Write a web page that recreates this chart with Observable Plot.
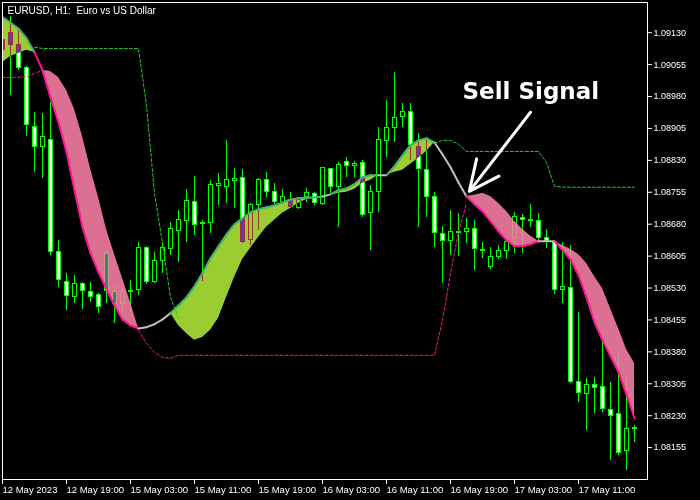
<!DOCTYPE html>
<html><head><meta charset="utf-8">
<script src="https://cdn.jsdelivr.net/npm/d3@7"></script>
<script src="https://cdn.jsdelivr.net/npm/@observablehq/plot@0.6"></script>
<style>
html,body{margin:0;padding:0;background:#000;}
#chart{width:700px;height:500px;}
</style></head><body><div id="chart"></div>
<script>
// hourly bars, index -1 = 12 May 2023 11:00
const bars = d3.range(-1, 79);
const open = [1.09112,1.09129,1.09100,1.09046,1.08908,1.08861,1.08877,1.08614,1.08543,1.08509,
1.08539,1.08520,1.08513,1.08610,1.08520,1.08492,1.08520,1.08525,1.08623,1.08543,
1.08593,1.08621,1.08663,1.08687,1.08731,1.08682,1.08682,1.08769,1.08767,1.08781,
1.08788,1.08642,1.08724,1.08783,1.08755,1.08729,1.08738,1.08717,1.08743,1.08750,
1.08727,1.08809,1.08767,1.08826,1.08816,1.08823,1.08706,1.08755,1.08875,1.08906,
1.08931,1.08943,1.08861,1.08807,1.08743,1.08656,1.08640,1.08661,1.08661,1.08668,
1.08619,1.08579,1.08602,1.08616,1.08647,1.08694,1.08689,1.08687,1.08647,1.08637,
1.08525,1.08529,1.08308,1.08280,1.08301,1.08297,1.08243,1.08233,1.08147,1.08198];
const high = [1.09148,1.09167,1.09136,1.09051,1.08943,1.08941,1.08966,1.08642,1.08563,1.08560,
1.08543,1.08543,1.08518,1.08619,1.08536,1.08529,1.08548,1.08637,1.08628,1.08614,
1.08637,1.08684,1.08713,1.08762,1.08793,1.08689,1.08783,1.08798,1.08877,1.08812,
1.08809,1.08729,1.08788,1.08802,1.08776,1.08762,1.08755,1.08743,1.08764,1.08755,
1.08814,1.08812,1.08826,1.08837,1.08828,1.08830,1.08771,1.08908,1.08971,1.09037,
1.08964,1.08964,1.08894,1.08877,1.08755,1.08675,1.08713,1.08706,1.08694,1.08689,
1.08637,1.08626,1.08630,1.08647,1.08708,1.08703,1.08727,1.08706,1.08668,1.08642,
1.08637,1.08630,1.08473,1.08318,1.08320,1.08407,1.08308,1.08384,1.08320,1.08207];
const low = [1.09065,1.08983,1.09042,1.08885,1.08802,1.08788,1.08607,1.08532,1.08476,1.08494,
1.08480,1.08496,1.08471,1.08494,1.08447,1.08471,1.08473,1.08513,1.08539,1.08541,
1.08565,1.08607,1.08590,1.08637,1.08654,1.08546,1.08659,1.08724,1.08729,1.08717,
1.08635,1.08630,1.08666,1.08743,1.08724,1.08727,1.08717,1.08715,1.08731,1.08724,
1.08724,1.08748,1.08673,1.08790,1.08790,1.08696,1.08619,1.08708,1.08837,1.08872,
1.08908,1.08830,1.08673,1.08696,1.08626,1.08541,1.08607,1.08605,1.08635,1.08572,
1.08600,1.08574,1.08597,1.08597,1.08612,1.08612,1.08673,1.08637,1.08623,1.08515,
1.08494,1.08306,1.08261,1.08196,1.08236,1.08238,1.08125,1.08137,1.08102,1.08167];
const close = [1.09089,1.09100,1.09046,1.08912,1.08861,1.08885,1.08614,1.08548,1.08511,1.08539,
1.08523,1.08509,1.08485,1.08523,1.08492,1.08520,1.08523,1.08623,1.08543,1.08593,
1.08623,1.08668,1.08689,1.08734,1.08677,1.08680,1.08772,1.08774,1.08783,1.08786,
1.08637,1.08724,1.08783,1.08755,1.08731,1.08743,1.08720,1.08736,1.08753,1.08729,
1.08812,1.08767,1.08819,1.08816,1.08821,1.08701,1.08755,1.08877,1.08906,1.08929,
1.08943,1.08866,1.08809,1.08743,1.08659,1.08640,1.08661,1.08660,1.08668,1.08621,
1.08618,1.08602,1.08616,1.08637,1.08696,1.08689,1.08688,1.08647,1.08640,1.08525,
1.08532,1.08308,1.08283,1.08301,1.08294,1.08245,1.08229,1.08142,1.08198,1.08200];
// indicator: fast line (band edge) and slow line (band far side)
const fast = [1.09167,1.09154,1.09140,1.09117,1.09084,1.09042,1.08978,1.08919,1.08849,1.08760,
1.08673,1.08612,1.08567,1.08527,1.08489,1.08456,1.08442,1.08435,1.08438,1.08445,
1.08456,1.08471,1.08489,1.08508,1.08534,1.08565,1.08600,1.08628,1.08656,1.08680,
1.08694,1.08708,1.08715,1.08720,1.08724,1.08731,1.08738,1.08741,1.08743,1.08743,
1.08745,1.08750,1.08760,1.08764,1.08774,1.08790,1.08795,1.08795,1.08795,1.08816,
1.08842,1.08866,1.08877,1.08882,1.08872,1.08844,1.08814,1.08778,1.08745,1.08727,
1.08710,1.08687,1.08663,1.08642,1.08628,1.08628,1.08633,1.08640,1.08640,1.08640,
1.08619,1.08597,1.08560,1.08508,1.08449,1.08407,1.08370,1.08332,1.08280,1.08224];
const slow = [1.09060,1.09074,1.09081,1.09089,1.09084,1.09042,1.09039,1.09025,1.08995,1.08950,
1.08886,1.08811,1.08743,1.08668,1.08609,1.08553,1.08496,1.08435,1.08438,1.08445,
1.08456,1.08471,1.08442,1.08423,1.08407,1.08414,1.08431,1.08459,1.08508,1.08555,
1.08597,1.08623,1.08649,1.08673,1.08689,1.08706,1.08717,1.08729,1.08738,1.08741,
1.08745,1.08748,1.08753,1.08755,1.08762,1.08776,1.08783,1.08795,1.08795,1.08802,
1.08807,1.08821,1.08835,1.08851,1.08872,1.08844,1.08814,1.08778,1.08745,1.08748,
1.08753,1.08745,1.08729,1.08710,1.08687,1.08668,1.08652,1.08640,1.08640,1.08640,
1.08630,1.08621,1.08609,1.08588,1.08557,1.08529,1.08482,1.08435,1.08386,1.08353];
const trend = ["up","up","up","up",
"down","down","down","down","down","down","down","down","down","down","down","down","down",
"flat","flat","flat","flat",
"up","up","up","up","up","up","up","up","up","up","up","up","up","up","up","up","up","up","up",
"flat",
"up","up","up","up","up","up",
"flat",
"up","up","up","up","up","up",
"flat","flat","flat","flat",
"down","down","down","down","down","down","down","down","down",
"flat","flat",
"down","down","down","down","down","down","down","down","down","down","down"];
const upStop = [null,null,null,null,
1.09096,1.09093,1.09093,1.09093,1.09093,1.09093,1.09093,1.09093,1.09093,1.09093,1.09093,1.09093,1.09093,1.09093,
1.08959,1.08753,1.08635,1.08508,1.08459,
null,null,null,null,null,null,null,null,null,null,null,null,null,null,null,null,
null,null,null,null,null,null,null,null,null,null,null,null,null,null,null,
1.08870,1.08877,1.08877,1.08868,
1.08851,1.08851,1.08851,1.08851,1.08851,1.08851,1.08851,1.08851,1.08851,1.08851,
1.08825,1.08769,
1.08767,1.08767,1.08767,1.08767,1.08767,1.08767,1.08767,1.08767,1.08767,1.08767];
const dnStop = [1.09025,1.09025,1.09025,1.09027,1.09034,1.09042,
null,null,null,null,null,null,null,null,null,null,null,
1.08431,1.08400,1.08379,1.08367,1.08365,1.08372,
1.08372,1.08372,1.08372,1.08372,1.08372,1.08372,1.08372,1.08372,1.08372,1.08372,
1.08372,1.08372,1.08372,1.08372,1.08372,1.08372,1.08372,1.08372,1.08372,1.08372,
1.08372,1.08372,1.08372,1.08372,1.08372,1.08372,1.08372,1.08372,1.08372,1.08372,1.08372,1.08372,
1.08454,1.08564,1.08661,1.08729,
null,null,null,null,null,null,null,null,null,null,null,null,null,null,null,null,null,null,null,null,null];

const xTickBars = [-1,7,15,23,31,39,47,55,63,71];
const xTickLabels = ["12 May 2023","12 May 19:00","15 May 03:00","15 May 11:00","15 May 19:00",
"16 May 03:00","16 May 11:00","16 May 19:00","17 May 03:00","17 May 11:00"];
const yTicks = [1.08155,1.08230,1.08305,1.08380,1.08455,1.08530,1.08605,1.08680,
1.08755,1.08830,1.08905,1.08980,1.09055,1.09130];
const titleText = "EURUSD, H1:\u00a0 Euro vs US Dollar";
const signalText = "Sell Signal";
const signalBar = 57;

const rows = bars.map((k, i) => ({k, open: open[i], high: high[i], low: low[i], close: close[i],
  fast: fast[i], slow: slow[i], upStop: upStop[i], dnStop: dnStop[i]}));

// band runs
const bandRows = [];
let run = 0;
for (let i = 0; i < rows.length; i++) {
  if (i > 0 && trend[i] !== trend[i-1]) run++;
  if (trend[i] === "flat") continue;
  bandRows.push({...rows[i], run, state: trend[i]});
  if (i + 1 < rows.length && trend[i+1] !== trend[i]) bandRows.push({...rows[i+1], run, state: trend[i]});
}
const segs = rows.slice(0, -1).map((r, i) => ({x1: r.k, y1: r.fast, x2: rows[i+1].k, y2: rows[i+1].fast, state: trend[i]}));
const edgeColor = {up: "#3cb371", down: "#ff1493", flat: "#c0c0c0"};
const fillColor = {up: "#9acd32", down: "#db7093"};
const lime = "#00ff00";

const chart = Plot.plot({
  width: 700, height: 500,
  marginLeft: 2, marginRight: 53, marginTop: 2, marginBottom: 21,
  style: {background: "black", color: "white", fontFamily: "'Liberation Sans', Arial, sans-serif", fontSize: "10px"},
  x: {domain: [-1, 79.625], axis: null},
  y: {domain: [1.08080, 1.09201], axis: null},
  marks: [
    Plot.frame({fill: "black"}),
    // candles
    Plot.ruleX(rows, {x: "k", y1: "high", y2: d => Math.max(d.open, d.close), stroke: lime, shapeRendering: "crispEdges", clip: true}),
    Plot.ruleX(rows, {x: "k", y1: d => Math.min(d.open, d.close), y2: "low", stroke: lime, shapeRendering: "crispEdges", clip: true}),
    Plot.rect(rows, {x1: d => d.k - 0.25, x2: d => d.k + 0.25, y1: "open", y2: "close",
      fill: d => d.close >= d.open ? "black" : "white", stroke: lime, strokeWidth: 1, shapeRendering: "crispEdges", clip: true}),
    // band fill (XOR-like over the candles)
    Plot.areaY(bandRows, {x: "k", y1: "fast", y2: "slow", z: "run", fill: d => fillColor[d.state],
      mixBlendMode: "difference"}),
    // band edge (fast line)
    Plot.link(segs, {x1: "x1", y1: "y1", x2: "x2", y2: "y2", stroke: d => edgeColor[d.state],
      strokeWidth: 2, strokeLinecap: "round", clip: true}),
    // trailing stops
    Plot.line(rows, {x: "k", y: "upStop", stroke: "#22cc22", strokeWidth: 1, strokeDasharray: "3,2", clip: true}),
    Plot.line(rows, {x: "k", y: "dnStop", stroke: "#ff1493", strokeWidth: 1, strokeDasharray: "3,2", clip: true}),
    // axes
    Plot.axisY({anchor: "right", ticks: yTicks, tickFormat: d => d.toFixed(5), tickSize: 4, tickPadding: 2, fontSize: 9}),
    Plot.axisX({ticks: xTickBars, tickFormat: d => xTickLabels[xTickBars.indexOf(d)], textAnchor: "start",
      tickSize: 5, tickPadding: 2, fontSize: 9.5}),
    Plot.frame({stroke: "white"}),
    // title
    Plot.text([titleText], {frameAnchor: "top-left", dx: 5, dy: 4, textAnchor: "start", lineAnchor: "top",
      fill: "white", fontSize: 10}),
    // annotation
    Plot.text([signalText], {x: () => signalBar - 0.5, y: () => 1.08992, textAnchor: "start", fill: "white",
      fontSize: 23, fontWeight: "bold", fontFamily: "'DejaVu Sans', sans-serif"}),
    Plot.arrow([{x1: signalBar + 8, y1: 1.08943, x2: signalBar + 0.35, y2: 1.08757}],
      {x1: "x1", y1: "y1", x2: "x2", y2: "y2", stroke: "white", strokeWidth: 3, headLength: 20, headAngle: 50})
  ]
});
document.getElementById("chart").appendChild(chart);
</script></body></html>
